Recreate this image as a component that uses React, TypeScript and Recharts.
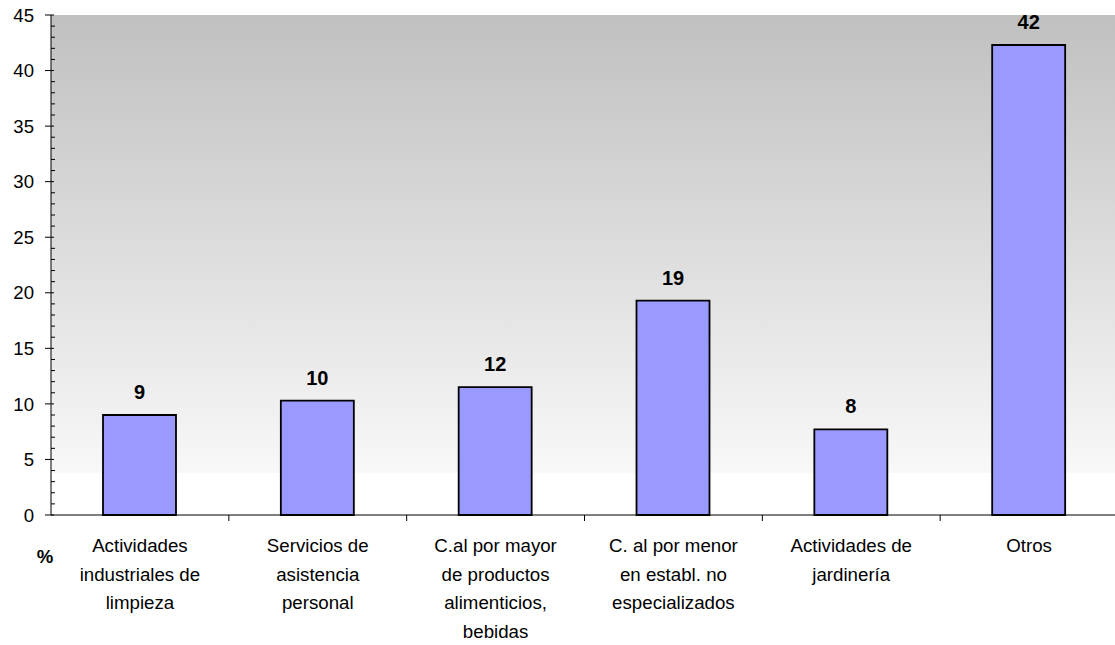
import React from 'react';
import { BarChart, Bar, XAxis, YAxis, CartesianGrid, LabelList } from 'recharts';

const categories = [
  'Actividades industriales de limpieza',
  'Servicios de asistencia personal',
  'C.al por mayor de productos alimenticios, bebidas',
  'C. al por menor en establ. no especializados',
  'Actividades de jardinería',
  'Otros',
];
const categoryLines = [
  ['Actividades', 'industriales de', 'limpieza'],
  ['Servicios de', 'asistencia', 'personal'],
  ['C.al por mayor', 'de productos', 'alimenticios,', 'bebidas'],
  ['C. al por menor', 'en establ. no', 'especializados'],
  ['Actividades de', 'jardinería'],
  ['Otros'],
];
const values = [9.0, 10.3, 11.5, 19.3, 7.7, 42.3];
const yTicks = [
  0, 1, 2, 3, 4, 5, 6, 7, 8, 9, 10, 11, 12, 13, 14, 15, 16, 17, 18, 19, 20, 21, 22, 23,
  24, 25, 26, 27, 28, 29, 30, 31, 32, 33, 34, 35, 36, 37, 38, 39, 40, 41, 42, 43, 44, 45,
];
const yLabelStep = 5;
const unitLabel = '%';

const data = categories.map((c, i) => ({ name: c, value: values[i] }));

const FONT = 'Arial, "Liberation Sans", sans-serif';

const YTick = (props: any) => {
  const { x, y, payload } = props;
  const v = payload.value;
  if (v % yLabelStep === 0) {
    return (
      <g>
        <line x1={x - 6} x2={x + 3} y1={y} y2={y} stroke="#000" strokeWidth={1} />
        <text x={x - 17} y={y} dy="0.36em" textAnchor="end" fontSize={18.6} fill="#000" fontFamily={FONT}>
          {v}
        </text>
      </g>
    );
  }
  return <line x1={x} x2={x + 4} y1={y} y2={y} stroke="#000" strokeWidth={1} />;
};

const XTick = (props: any) => {
  const { x, y, payload, index, width, visibleTicksCount } = props;
  const lines = categoryLines[index] || [];
  const half = payload.offset != null && payload.offset > 0 ? payload.offset : width / (2 * (visibleTicksCount || 6));
  return (
    <g>
      {index < categories.length - 1 && (
        <line x1={x + half} x2={x + half} y1={y} y2={y + 6} stroke="#000" strokeWidth={1} />
      )}
      <text textAnchor="middle" fontSize={18.7} fill="#000" fontFamily={FONT}>
        {lines.map((l: string, i: number) => (
          <tspan key={i} x={x} y={y + 37 + i * 28.6}>
            {l}
          </tspan>
        ))}
      </text>
    </g>
  );
};

const UnitLabel = (props: any) => {
  const { viewBox } = props;
  return (
    <text
      x={viewBox.x + viewBox.width - 6}
      y={viewBox.y + viewBox.height + 48}
      textAnchor="middle"
      fontSize={18.6}
      fontWeight="bold"
      fill="#000"
      fontFamily={FONT}
    >
      {unitLabel}
    </text>
  );
};

export default function App() {
  return (
    <div style={{ position: 'absolute', left: 0, top: 0, width: 1115, height: 645, overflow: 'hidden', background: '#fff' }}>
      <BarChart
        width={1118}
        height={645}
        data={data}
        margin={{ top: 15, right: 0, bottom: 0, left: 0 }}
        style={{ fontFamily: FONT }}
      >
        <defs>
          <linearGradient id="bgGrad" x1="0" y1="0" x2="0" y2="1">
            <stop offset="0" stopColor="#c0c0c0" />
            <stop offset="0.916" stopColor="#f8f8f8" />
            <stop offset="0.916" stopColor="#ffffff" />
            <stop offset="1" stopColor="#ffffff" />
          </linearGradient>
        </defs>
        <CartesianGrid horizontal={false} vertical={false} fill="url(#bgGrad)" stroke="none" />
        <XAxis
          dataKey="name"
          height={130}
          interval={0}
          tickLine={false}
          tickSize={0}
          tickMargin={0}
          axisLine={{ stroke: '#000', strokeWidth: 1 }}
          tick={<XTick />}
        />
        <YAxis
          width={51}
          domain={[0, 45]}
          ticks={yTicks}
          interval={0}
          tickLine={false}
          tickSize={0}
          tickMargin={0}
          axisLine={{ stroke: '#000', strokeWidth: 1 }}
          tick={<YTick />}
          label={<UnitLabel />}
        />
        <Bar dataKey="value" fill="#9999ff" stroke="#000" strokeWidth={1.8} barSize={73} isAnimationActive={false}>
          <LabelList
            dataKey="value"
            position="top"
            offset={16}
            formatter={(v: any) => Math.round(Number(v))}
            style={{ fontSize: 20, fontWeight: 'bold', fill: '#000', fontFamily: FONT }}
          />
        </Bar>
      </BarChart>
    </div>
  );
}
